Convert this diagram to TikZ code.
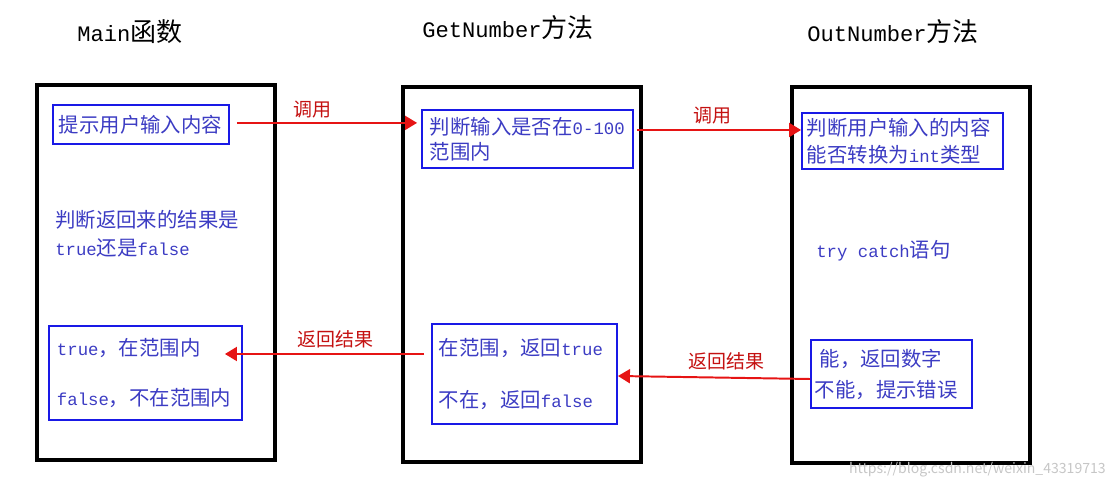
\documentclass[tikz,border=0pt]{standalone}
\usepackage{fontspec}
\setmainfont{Liberation Mono}[Scale=0.85]
\newfontfamily\cjk{Noto Sans CJK SC}
\newcommand{\zh}[1]{{\cjk #1}}
\usepackage{tikz}
\usetikzlibrary{arrows.meta}
\usepackage{xcolor}
\definecolor{txtblue}{RGB}{60,60,195}
\definecolor{boxblue}{RGB}{25,25,230}
\definecolor{callred}{RGB}{230,20,20}

\begin{document}
\begin{tikzpicture}[
    x=0.025cm, y=-0.025cm,
    frame/.style={draw, line width=0.1cm, minimum width=5.95cm, minimum height=9.375cm},
    box/.style={draw=boxblue, line width=1.3pt, text=txtblue, align=left, inner xsep=0.2cm, inner ysep=0pt, font=\fontsize{14.5}{18}\selectfont},
    txt/.style={text=txtblue, align=left, inner sep=0pt, anchor=west, font=\fontsize{14.5}{18}\selectfont},
    title/.style={font=\fontsize{18.5}{22}\selectfont},
    call/.style={-{Triangle[length=0.3cm,width=0.35cm]}, draw=callred, line width=1.4pt},
    lbl/.style={text=callred!85!black, font=\fontsize{13.5}{15}\selectfont}
]
\useasboundingbox (0,0) rectangle (1117,490);

% titles
\node[title] (tmain) at (130,32) {Main\zh{函数}};
\node[title] (tget) at (508,28) {GetNumber\zh{方法}};
\node[title] (tout) at (893,32) {OutNumber\zh{方法}};

% frames
\node[frame] (main) at (156,272.5) {};
\node[frame] (getnum) at (522,274.5) {};
\node[frame] (outnum) at (911,275) {};

% Main
\node[box, text width=4.1cm, inner xsep=0.15cm, minimum height=0.975cm] (prompt) at (141,124.5) {\zh{提示用户输入内容}};
\node[txt] (judge) at (55,234) {\zh{判断返回来的结果是}\\[2pt]true\zh{还是}false};
\node[box, text width=4.425cm, minimum height=2.35cm] (mainres) at (145.5,373) {true\zh{，在范围内}\\[18pt]false\zh{，不在范围内}};

% GetNumber
\node[box, text width=4.875cm, minimum height=1.45cm] (range) at (527.5,139) {\zh{判断输入是否在}0-100\\\zh{范围内}};
\node[box, text width=4.275cm, inner xsep=0.175cm, minimum height=2.5cm] (getres) at (524.5,374) {\zh{在范围，返回}true\\[19.6pt]\zh{不在，返回}false};

% OutNumber
\node[box, text width=4.775cm, inner xsep=0.125cm, minimum height=1.4cm] (convert) at (902.5,141) {\zh{判断用户输入的内容}\\[1pt]\zh{能否转换为}int\zh{类型}};
\node[txt] (trycatch) at (816,251) {try catch\zh{语句}};
\node[box, text width=3.825cm, inner xsep=0.1cm, minimum height=1.7cm] (outres) at (891.5,374) {\hspace*{0.12cm}\zh{能，返回数字}\\[4pt]\zh{不能，提示错误}};

% calls and returns
\draw[call, shorten <=0.175cm, shorten >=0.1cm] ([yshift=0.04cm]prompt.east) -- ([yshift=0.04cm]prompt.east -| range.west)
    node[lbl, pos=0.43, above=0pt] {\zh{调用}};
\draw[call, shorten <=0.075cm] ([yshift=0.225cm]range.east) -- ([yshift=0.225cm]range.east -| convert.west)
    node[lbl, pos=0.47, above=1pt] {\zh{调用}};
\draw[call, shorten <=0.175cm, shorten >=-0.45cm] ([yshift=0.5cm]getres.west) -- ([yshift=0.5cm]getres.west -| mainres.east)
    node[lbl, pos=0.51, above=1pt] {\zh{返回结果}};
\draw[call] ([yshift=-0.125cm]outres.west) -- ([yshift=-0.05cm]getres.east)
    node[lbl, pos=0.435, above=2pt] {\zh{返回结果}};

\node[text=gray!45, font=\cjk\fontsize{10}{12}\selectfont, anchor=east] (wmark) at (1110,470) {https://blog.csdn.net/weixin\_43319713};
\end{tikzpicture}
\end{document}
